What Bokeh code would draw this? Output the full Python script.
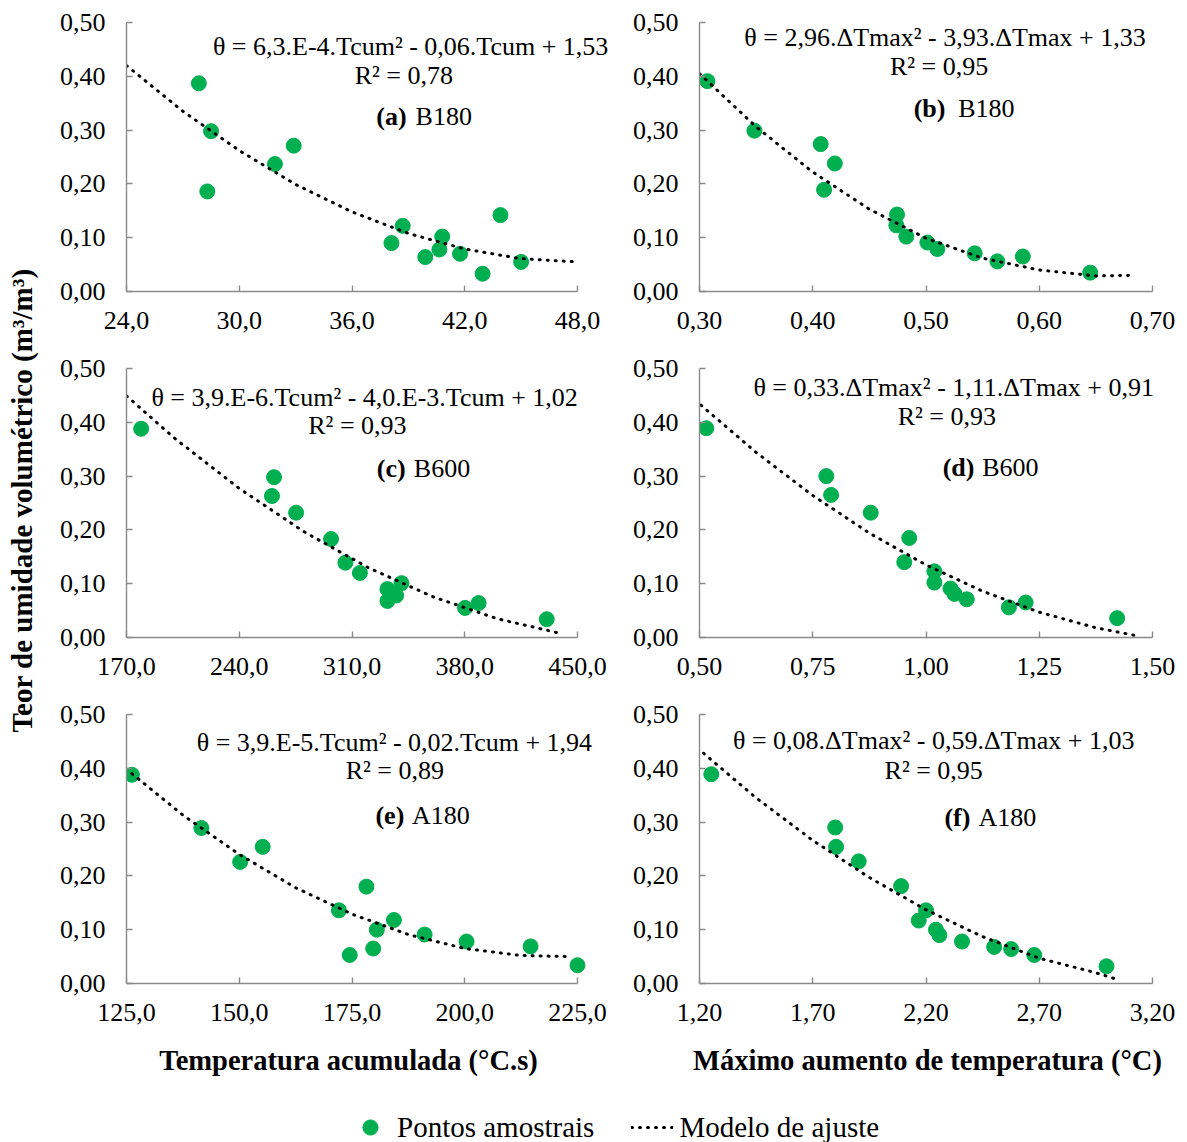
import numpy as np
from bokeh.plotting import figure
from bokeh.models import Range1d, FixedTicker, Label, Legend, LegendItem
from bokeh.layouts import row, column
from bokeh.embed import file_html
from bokeh.resources import INLINE

# ------------------------------------------------------------------ data
y_ticks = [0.0, 0.1, 0.2, 0.3, 0.4, 0.5]
y_tick_labels = ["0,00", "0,10", "0,20", "0,30", "0,40", "0,50"]

# (a) B180 - Tcum
a_x = [27.85, 28.5, 28.3, 31.9, 32.9, 38.1, 38.7, 39.9, 40.65, 40.8, 41.75, 42.95, 43.9, 45.0]
a_y = [0.387, 0.298, 0.186, 0.237, 0.271, 0.090, 0.122, 0.064, 0.078, 0.102, 0.070, 0.033, 0.142, 0.055]
a_fit_x = [24, 27, 30, 33, 36, 39, 42, 45, 48]
a_fit_y = [0.420, 0.335, 0.262, 0.199, 0.148, 0.108, 0.079, 0.061, 0.055]
a_ticks = [24, 30, 36, 42, 48]
a_tick_labels = ["24,0", "30,0", "36,0", "42,0", "48,0"]

# (b) B180 - dTmax
b_x = [0.307, 0.3485, 0.407, 0.4195, 0.410, 0.4744, 0.4738, 0.4826, 0.5012, 0.510, 0.543, 0.563, 0.5855, 0.645]
b_y = [0.391, 0.299, 0.274, 0.238, 0.189, 0.143, 0.123, 0.102, 0.091, 0.079, 0.071, 0.056, 0.065, 0.035]
b_fit_x = [0.30, 0.35, 0.40, 0.45, 0.50, 0.55, 0.60, 0.65, 0.685]
b_fit_y = [0.405, 0.306, 0.222, 0.153, 0.099, 0.062, 0.040, 0.029, 0.030]
b_ticks = [0.3, 0.4, 0.5, 0.6, 0.7]
b_tick_labels = ["0,30", "0,40", "0,50", "0,60", "0,70"]

# (c) B600 - Tcum
c_x = [179.1, 261.6, 260.3, 275.3, 297.0, 305.9, 314.9, 332.0, 332.0, 337.4, 340.7, 380.2, 388.6, 430.9]
c_y = [0.388, 0.298, 0.263, 0.232, 0.183, 0.139, 0.120, 0.090, 0.068, 0.078, 0.101, 0.055, 0.064, 0.034]
c_fit_x = [170, 200, 240, 280, 320, 360, 400, 437.5]
c_fit_y = [0.449, 0.370, 0.277, 0.197, 0.130, 0.076, 0.035, 0.009]
c_ticks = [170, 240, 310, 380, 450]
c_tick_labels = ["170,0", "240,0", "310,0", "380,0", "450,0"]

# (d) B600 - dTmax
d_x = [0.515, 0.780, 0.7905, 0.878, 0.963, 0.952, 1.0185, 1.0185, 1.054, 1.063, 1.090, 1.183, 1.220, 1.422]
d_y = [0.389, 0.300, 0.265, 0.232, 0.185, 0.140, 0.123, 0.102, 0.091, 0.081, 0.071, 0.056, 0.065, 0.036]
d_fit_x = [0.503, 0.625, 0.75, 0.875, 1.0, 1.125, 1.25, 1.375, 1.4735]
d_fit_y = [0.432, 0.344, 0.264, 0.194, 0.135, 0.086, 0.047, 0.018, 0.002]
d_ticks = [0.5, 0.75, 1.0, 1.25, 1.5]
d_tick_labels = ["0,50", "0,75", "1,00", "1,25", "1,50"]

# (e) A180 - Tcum
e_x = [126.2, 141.6, 150.2, 155.2, 172.1, 174.5, 178.2, 179.7, 180.5, 184.3, 191.1, 200.4, 214.6, 225.0]
e_y = [0.388, 0.289, 0.226, 0.254, 0.136, 0.053, 0.180, 0.065, 0.100, 0.118, 0.091, 0.078, 0.069, 0.034]
e_fit_x = [126.2, 137.5, 150, 162.5, 175, 187.5, 200, 212.5, 223.5]
e_fit_y = [0.390, 0.313, 0.240, 0.178, 0.129, 0.091, 0.065, 0.052, 0.050]
e_ticks = [125, 150, 175, 200, 225]
e_tick_labels = ["125,0", "150,0", "175,0", "200,0", "225,0"]

# (f) A180 - dTmax
f_x = [1.252, 1.799, 1.803, 1.903, 2.090, 2.200, 2.168, 2.244, 2.259, 2.359, 2.501, 2.576, 2.678, 2.997]
f_y = [0.389, 0.290, 0.254, 0.227, 0.181, 0.136, 0.117, 0.100, 0.090, 0.078, 0.068, 0.064, 0.053, 0.032]
f_fit_x = [1.2176, 1.45, 1.70, 1.95, 2.20, 2.45, 2.70, 2.95, 3.0456]
f_fit_y = [0.428, 0.345, 0.266, 0.197, 0.137, 0.087, 0.047, 0.020, 0.0075]
f_ticks = [1.2, 1.7, 2.2, 2.7, 3.2]
f_tick_labels = ["1,20", "1,70", "2,20", "2,70", "3,20"]

equations = [
    "θ = 6,3.E-4.Tcum² - 0,06.Tcum + 1,53",
    "θ = 2,96.ΔTmax² - 3,93.ΔTmax + 1,33",
    "θ = 3,9.E-6.Tcum² - 4,0.E-3.Tcum + 1,02",
    "θ = 0,33.ΔTmax² - 1,11.ΔTmax + 0,91",
    "θ = 3,9.E-5.Tcum² - 0,02.Tcum + 1,94",
    "θ = 0,08.ΔTmax² - 0,59.ΔTmax + 1,03",
]
r2_texts = ["R² = 0,78", "R² = 0,95", "R² = 0,93", "R² = 0,93", "R² = 0,89", "R² = 0,95"]
tags = ["(a)", "(b)", "(c)", "(d)", "(e)", "(f)"]
names = ["B180", "B180", "B600", "B600", "A180", "A180"]

y_title = "Teor de umidade volumétrico (m³/m³)"
x_title_left = "Temperatura acumulada (°C.s)"
x_title_right = "Máximo aumento de temperatura (°C)"
legend_points = "Pontos amostrais"
legend_model = "Modelo de ajuste"

# ------------------------------------------------------------------ style
FONT = "Liberation Serif"
GREEN = "#00B050"
AXIS_GRAY = "#8A8A8A"
INK = "black"
TICK_FS = "26px"
TEXT_FS = "26px"
TITLE_FS = "28.5px"
YTITLE_FS = "29px"
LEGEND_FS = "29px"
ROW_H = 346
TOP_B, BOT_B = 14, 63
FIRST_ROW_EXTRA = 8

# text placement as fractions of the frame (x of axis span, y of 0..0.5)
text_pos = [
    # eq_fx, eq_fy, r2_fx, r2_fy, tag_right_fx, name_left_fx, tag_fy
    (0.630, 0.909, 0.615, 0.804, 0.621, 0.641, 0.651),
    (0.542, 0.944, 0.529, 0.837, 0.543, 0.571, 0.680),
    (0.528, 0.893, 0.512, 0.788, 0.619, 0.637, 0.627),
    (0.561, 0.928, 0.546, 0.823, 0.607, 0.624, 0.631),
    (0.594, 0.897, 0.595, 0.793, 0.616, 0.633, 0.625),
    (0.517, 0.903, 0.517, 0.793, 0.598, 0.616, 0.617),
]

LEFT_COL = dict(left=86, frame=451, pad=34, width=578)
RIGHT_COL = dict(left=81, frame=453, pad=14, width=561)


def make_panel(i, xs, ys, fx, fy, ticks, tick_labels, col, first_row):
    x0, x1 = ticks[0], ticks[-1]
    pad = col["pad"] * (x1 - x0) / col["frame"]
    right_b = col["width"] - col["left"] - col["frame"] - col["pad"]
    extra = FIRST_ROW_EXTRA if first_row else 0
    p = figure(width=col["width"], height=ROW_H + extra,
               x_range=Range1d(x0, x1 + pad), y_range=Range1d(0, 0.5),
               output_backend="svg", toolbar_location=None,
               min_border_left=col["left"], min_border_right=right_b,
               min_border_top=TOP_B + extra, min_border_bottom=BOT_B)
    p.outline_line_color = None
    p.xgrid.visible = False
    p.ygrid.visible = False
    p.background_fill_color = "white"
    p.border_fill_color = "white"

    p.xaxis.bounds = (x0, x1)
    p.xaxis.ticker = FixedTicker(ticks=ticks)
    p.xaxis.major_label_overrides = dict(zip(ticks, tick_labels))
    p.yaxis.ticker = FixedTicker(ticks=y_ticks)
    p.yaxis.major_label_overrides = dict(zip(y_ticks, y_tick_labels))
    for ax in (p.xaxis[0], p.yaxis[0]):
        ax.axis_line_color = AXIS_GRAY
        ax.axis_line_width = 1.4
        ax.major_tick_line_color = AXIS_GRAY
        ax.major_tick_line_width = 1.4
        ax.major_tick_in = 6
        ax.major_tick_out = 0
        ax.minor_tick_line_color = None
        ax.major_label_text_font = FONT
        ax.major_label_text_font_size = TICK_FS
        ax.major_label_text_color = INK
    p.xaxis.major_label_standoff = 20
    p.yaxis.major_label_standoff = 21

    p.scatter(xs, ys, size=15, fill_color=GREEN, line_color=GREEN)
    p.line(fx, fy, line_color="black", line_width=3, line_dash="1 7", line_cap="round")

    ex, ey, rx, ry, tx, nx, ty = text_pos[i]
    span = x1 - x0
    p.add_layout(Label(x=x0 + ex * span, y=ey * 0.5, text=equations[i], text_font=FONT,
                       text_color=INK, text_font_size=TEXT_FS,
                       text_align="center", text_baseline="middle"))
    p.add_layout(Label(x=x0 + rx * span, y=ry * 0.5, text=r2_texts[i], text_font=FONT,
                       text_color=INK, text_font_size=TEXT_FS,
                       text_align="center", text_baseline="middle"))
    p.add_layout(Label(x=x0 + tx * span, y=ty * 0.5, text=tags[i], text_font=FONT,
                       text_color=INK, text_font_style="bold", text_font_size=TEXT_FS,
                       text_align="right", text_baseline="middle"))
    p.add_layout(Label(x=x0 + nx * span, y=ty * 0.5, text=names[i], text_font=FONT,
                       text_color=INK, text_font_size=TEXT_FS,
                       text_align="left", text_baseline="middle"))
    return p


pa = make_panel(0, a_x, a_y, a_fit_x, a_fit_y, a_ticks, a_tick_labels, LEFT_COL, True)
pb = make_panel(1, b_x, b_y, b_fit_x, b_fit_y, b_ticks, b_tick_labels, RIGHT_COL, True)
pc = make_panel(2, c_x, c_y, c_fit_x, c_fit_y, c_ticks, c_tick_labels, LEFT_COL, False)
pd = make_panel(3, d_x, d_y, d_fit_x, d_fit_y, d_ticks, d_tick_labels, RIGHT_COL, False)
pe = make_panel(4, e_x, e_y, e_fit_x, e_fit_y, e_ticks, e_tick_labels, LEFT_COL, False)
pf = make_panel(5, f_x, f_y, f_fit_x, f_fit_y, f_ticks, f_tick_labels, RIGHT_COL, False)


def blank(w, h):
    q = figure(width=w, height=h, x_range=Range1d(0, w), y_range=Range1d(0, h),
               output_backend="svg", toolbar_location=None,
               min_border_left=0, min_border_right=0, min_border_top=0, min_border_bottom=0)
    q.axis.visible = False
    q.xgrid.visible = False
    q.ygrid.visible = False
    q.outline_line_color = None
    return q


# rotated y title (strip on the left)
YT_W, YT_H = 40, 3 * ROW_H + FIRST_ROW_EXTRA
ytf = blank(YT_W, YT_H)
ytf.add_layout(Label(x=21, y=YT_H - 500, text=y_title, angle=np.pi / 2,
                     text_font=FONT, text_color=INK, text_font_style="bold",
                     text_font_size=YTITLE_FS, text_align="center", text_baseline="middle"))

# bottom strip: x titles + legend
BOT_W, BOT_H = YT_W + LEFT_COL["width"] + RIGHT_COL["width"], 96
bf = blank(BOT_W, BOT_H)
bf.add_layout(Label(x=348, y=BOT_H - 14, text=x_title_left,
                    text_font=FONT, text_color=INK, text_font_style="bold",
                    text_font_size=TITLE_FS, text_align="center", text_baseline="alphabetic"))
bf.add_layout(Label(x=927, y=BOT_H - 14, text=x_title_right,
                    text_font=FONT, text_color=INK, text_font_style="bold",
                    text_font_size=TITLE_FS, text_align="center", text_baseline="alphabetic"))

# legend keys: hidden copies of series (a), only drawn as legend glyphs
r_pts = bf.scatter(a_x, a_y, size=15, fill_color=GREEN, line_color=GREEN, visible=False)
r_fit = bf.line(a_fit_x, a_fit_y, line_color="black", line_width=3, line_dash="1 7",
                line_cap="round", visible=False)
leg = Legend(items=[LegendItem(label=legend_points, renderers=[r_pts]),
                    LegendItem(label=legend_model, renderers=[r_fit])],
             orientation="horizontal", location=(349, -4),
             label_text_font=FONT, label_text_font_size=LEGEND_FS, label_text_color=INK,
             glyph_width=42, glyph_height=38, label_standoff=6, spacing=37,
             padding=0, margin=0, border_line_color=None, background_fill_alpha=0,
             inactive_fill_alpha=0)
bf.add_layout(leg, "center")

grid = column(row(pa, pb), row(pc, pd), row(pe, pf))
layout = column(row(ytf, grid), bf)

open("out.html", "w").write(file_html(layout, INLINE))
